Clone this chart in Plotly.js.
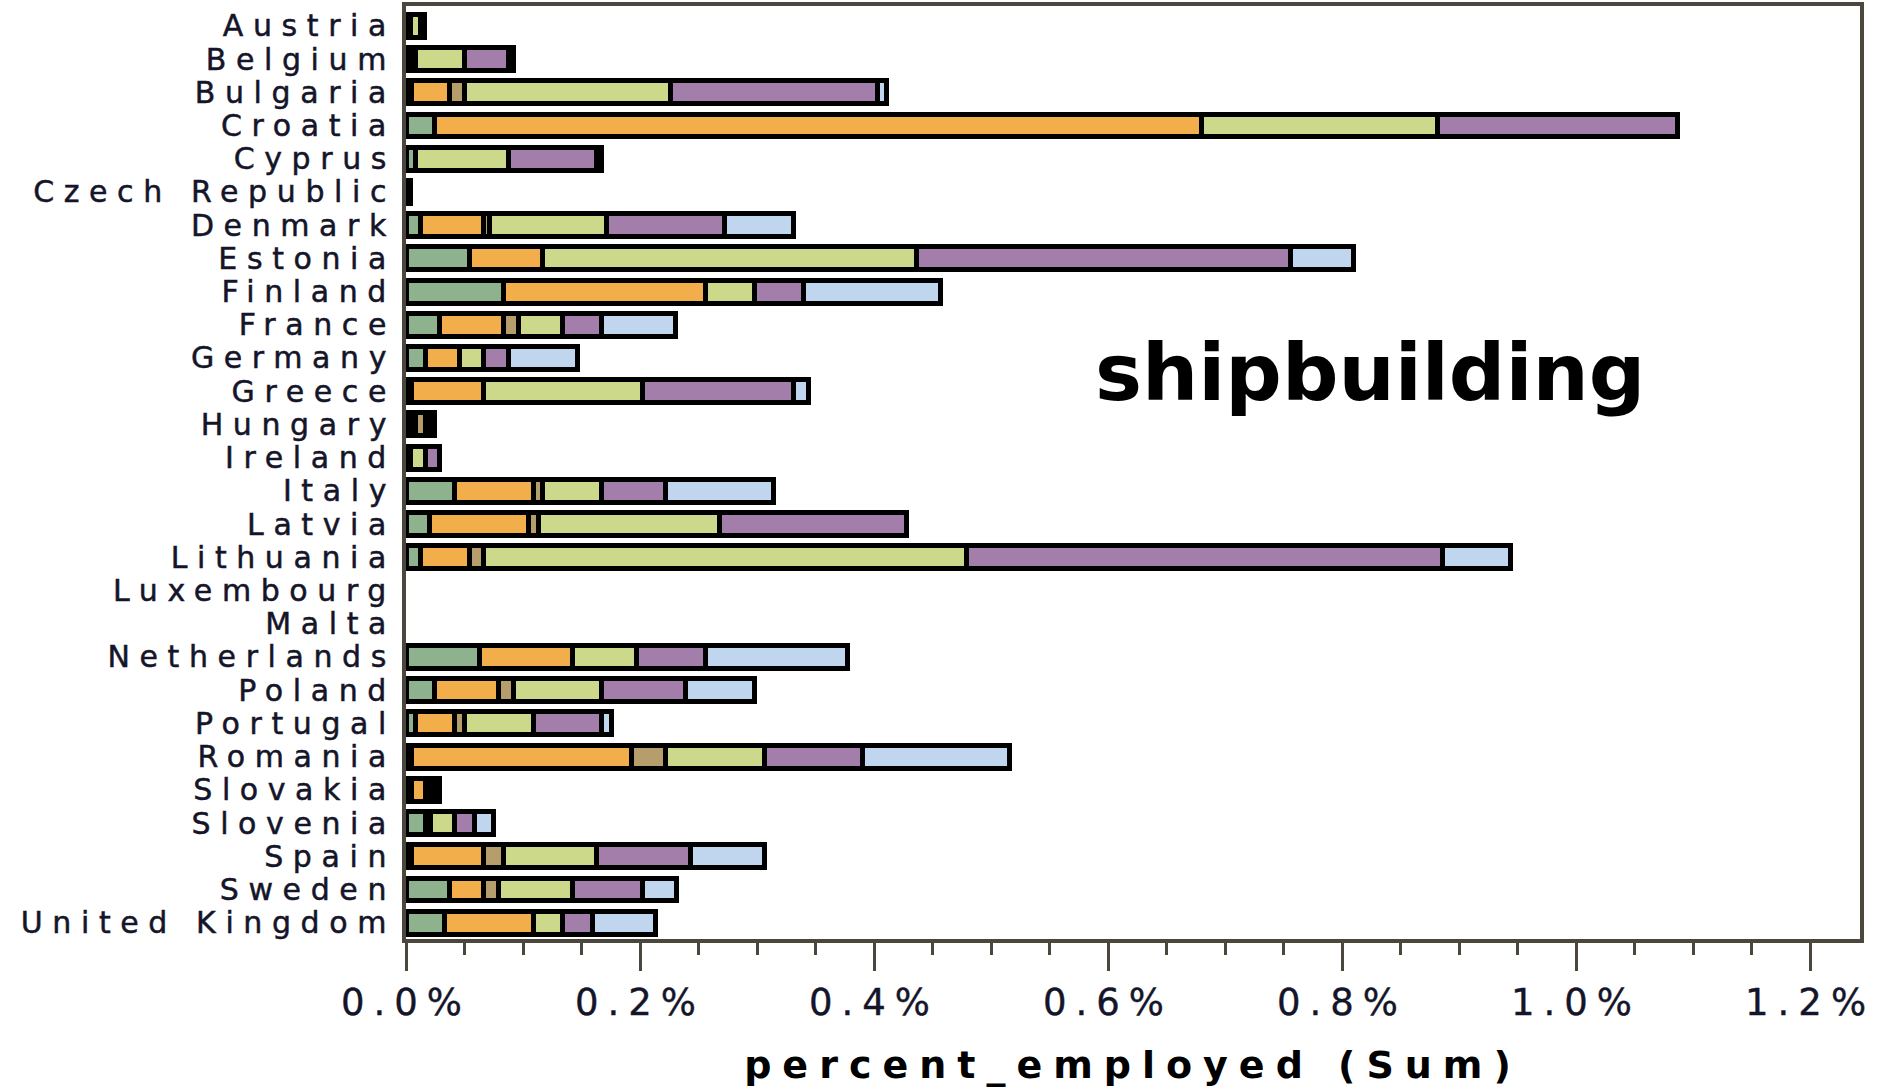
<!DOCTYPE html>
<html>
<head>
<meta charset="utf-8">
<script src="https://cdn.plot.ly/plotly-3.0.1.min.js"></script>
<style>
  html, body { margin: 0; padding: 0; background: #fff; }
  #chart { width: 1888px; height: 1088px; }
  .ytick text { letter-spacing: 9.6px; stroke: #15152a; stroke-width: 0.5px; }
  .xtick text { letter-spacing: 9px; stroke: #15152a; stroke-width: 0.4px; }
  .xtitle { letter-spacing: 11px; }
</style>
</head>
<body>
<div id="chart"></div>
<script>
// Categories (top to bottom)
const countries = ["Austria", "Belgium", "Bulgaria", "Croatia", "Cyprus", "Czech Republic",
  "Denmark", "Estonia", "Finland", "France", "Germany", "Greece", "Hungary", "Ireland",
  "Italy", "Latvia", "Lithuania", "Luxembourg", "Malta", "Netherlands", "Poland",
  "Portugal", "Romania", "Slovakia", "Slovenia", "Spain", "Sweden", "United Kingdom"];

// Stacked segments, percent employed (sum), in stacking order (null = no segment)
const seg1 = [0.0039, 0.004, 0.0046, 0.0245, 0.008, null, 0.0124, 0.0546, 0.0836, 0.0287, 0.0163, 0.0043, 0.004, 0.004,
  0.0415, 0.0202, 0.0124, null, null, 0.0627, 0.0245, 0.008, 0.0043, 0.0043, 0.0163, 0.0043, 0.0372, 0.033];
const seg2 = [null, 0.0045, 0.0326, 0.6558, null, null, 0.0535, 0.0624, 0.1722, 0.0549, 0.0298, 0.062, 0.0045, null,
  0.0677, 0.0847, 0.0422, null, null, 0.0797, 0.0549, 0.0335, 0.1885, 0.012, 0.0043, 0.062, 0.0291, 0.0762];
const seg3 = [null, null, 0.0131, null, null, null, 0.0053, null, null, 0.0128, null, null, 0.0078, null,
  0.0078, 0.0082, 0.0117, null, null, null, 0.0128, 0.0089, 0.0291, 0.004, null, 0.0174, 0.0131, null];
const seg4 = [0.0082, 0.0418, 0.176, 0.2016, 0.0799, 0.004, 0.1001, 0.3196, 0.0422, 0.0376, 0.0202, 0.1354, 0.004, 0.0124,
  0.0503, 0.1552, 0.4125, null, null, 0.0549, 0.0751, 0.0588, 0.0845, 0.004, 0.0209, 0.0794, 0.0631, 0.0248];
const seg5 = [0.0039, 0.0372, 0.1765, 0.2051, 0.0748, null, 0.1013, 0.319, 0.0418, 0.0333, 0.0216, 0.1297, 0.0042, 0.0124,
  0.0546, 0.1595, 0.4071, null, null, 0.0585, 0.0719, 0.0581, 0.0838, 0.0044, 0.0174, 0.0804, 0.0592, 0.0252];
const seg6 = [null, 0.0046, 0.008, null, 0.0046, null, 0.0586, 0.054, 0.1173, 0.0634, 0.0588, 0.0128, null, null,
  0.0925, null, 0.0585, null, null, 0.1219, 0.0588, 0.0082, 0.1258, null, 0.0163, 0.0627, 0.0291, 0.0542];

const seriesNames = ["Segment 1", "Segment 2", "Segment 3", "Segment 4", "Segment 5", "Segment 6"];
const seriesValues = [seg1, seg2, seg3, seg4, seg5, seg6];
const seriesColors = ["#8fb28e", "#f2ae4a", "#b59e6c", "#cdd98a", "#a47eab", "#c0d6ef"];

const xTickSuffix = "%";
const chartLabel = "shipbuilding";
const xTitle = "percent_employed (Sum)";

const frameColor = "#4b473d";
const labelColor = "#15152a";

const traces = seriesValues.map((vals, i) => ({
  type: "bar",
  orientation: "h",
  name: seriesNames[i],
  y: countries,
  x: vals,
  marker: { color: seriesColors[i], line: { color: "#000000", width: 5 } },
  hoverinfo: "y+x+name"
}));

const layout = {
  width: 1888,
  height: 1088,
  barmode: "stack",
  bargap: 0.31,
  showlegend: false,
  paper_bgcolor: "#ffffff",
  plot_bgcolor: "#ffffff",
  margin: { l: 406, r: 28, t: 6, b: 149, pad: 0 },
  xaxis: {
    range: [0, 1.2427],
    tick0: 0,
    dtick: 0.2,
    tickformat: ".1f",
    ticksuffix: xTickSuffix,
    ticks: "outside",
    ticklen: 28,
    tickwidth: 3,
    tickcolor: frameColor,
    minor: { dtick: 0.05, tick0: 0, ticks: "outside", ticklen: 12, tickwidth: 3, tickcolor: frameColor, showgrid: false },
    showgrid: false,
    zeroline: false,
    showline: true,
    mirror: true,
    linecolor: frameColor,
    linewidth: 4,
    tickfont: { family: "DejaVu Sans", size: 37, color: labelColor },
    title: { text: xTitle, font: { family: "DejaVu Sans", size: 38, color: "#000", weight: "bold" }, standoff: 29 }
  },
  yaxis: {
    type: "category",
    range: [27.49, -0.596],
    tickmode: "array",
    tickvals: countries,
    ticktext: countries,
    ticks: "",
    showgrid: false,
    zeroline: false,
    showline: true,
    mirror: true,
    linecolor: frameColor,
    linewidth: 4,
    ticklabelstandoff: 0,
    tickfont: { family: "DejaVu Sans", size: 30, color: labelColor }
  },
  annotations: [{
    text: chartLabel,
    xref: "paper", yref: "paper",
    x: (1369.6 - 406) / (1888 - 406 - 28),
    y: 1 - (373 - 6) / (1088 - 6 - 149),
    xanchor: "center", yanchor: "middle",
    showarrow: false,
    font: { family: "DejaVu Sans", size: 79, color: "#000", weight: "bold" }
  }]
};

Plotly.newPlot("chart", traces, layout, { displayModeBar: false, staticPlot: true });
</script>
</body>
</html>
